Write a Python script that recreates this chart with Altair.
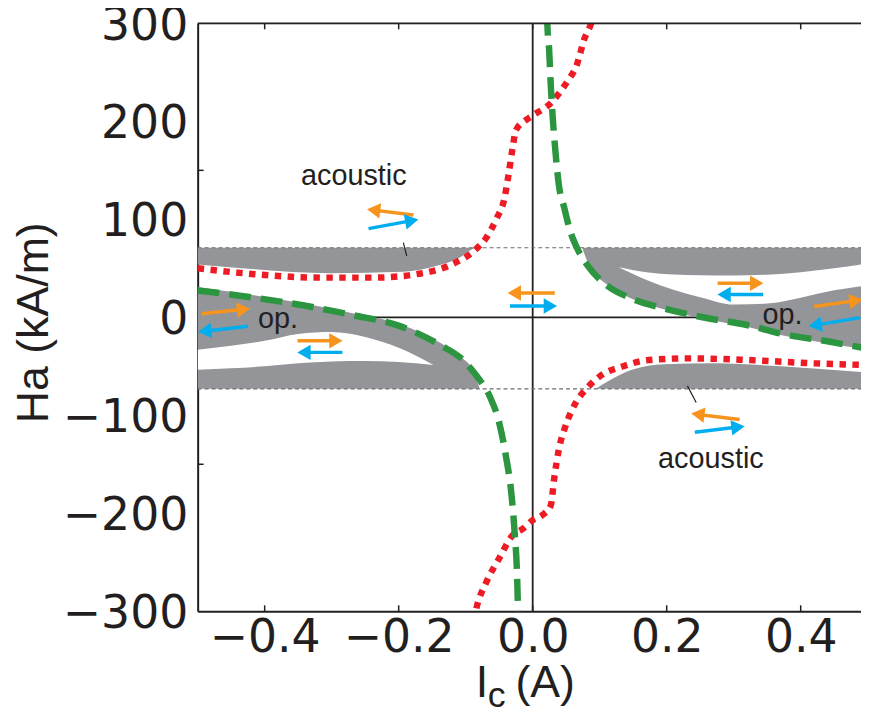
import math
import altair as alt
import pandas as pd

# ---------------- data ----------------
X_TICKS = [-0.4, -0.2, 0.0, 0.2, 0.4]
Y_LABELS = [-300, -200, -100, 0, 100, 200, 300]
Y_TICKS = [-150, 150]
DASH_LEVELS = [71, -73]

RED_UP_X = [-0.5, -0.415, -0.317, -0.237, -0.169, -0.119, -0.084, -0.069, -0.0545, -0.042,
            -0.036, -0.030, -0.025, -0.010, 0.0, 0.029, 0.044, 0.054, 0.066, 0.0714, 0.076, 0.086, 0.092]
RED_UP_Y = [50, 44, 40.5, 40.5, 44.5, 54.5, 70, 81.4, 100, 122,
            145.6, 172.6, 191, 201.4, 206, 220, 233, 243, 258, 270.6, 282, 297.6, 310]

RED_LO_X = [-0.088, -0.084, -0.069, -0.05, -0.03, -0.015, 0.0, 0.014, 0.027, 0.032, 0.039,
            0.049, 0.064, 0.081, 0.103, 0.133, 0.173, 0.232, 0.321, 0.42, 0.492]
RED_LO_Y = [-310, -297, -270, -246, -222.6, -216, -207, -202, -192, -165, -135,
            -111, -87.5, -72.3, -58.8, -50.4, -43.6, -41.9, -43.6, -47, -48.6]

GREEN_UP_X = [0.0215, 0.022, 0.0245, 0.027, 0.030, 0.034, 0.039, 0.047, 0.056, 0.066, 0.084,
              0.108, 0.148, 0.197, 0.252, 0.321, 0.370, 0.444, 0.492]
GREEN_UP_Y = [310, 297.6, 274, 237, 203, 169, 135.5, 112, 88, 71, 51,
              34, 19, 8.8, 0.3, -8.1, -16.5, -25, -31]

GREEN_LO_X = [-0.5, -0.44, -0.341, -0.267, -0.198, -0.138, -0.104, -0.089, -0.079, -0.064,
              -0.05, -0.04, -0.032, -0.027, -0.023, -0.022, -0.0215]
GREEN_LO_Y = [27.4, 22.3, 12, 2, -9, -28.4, -43.6, -55, -64, -80.8,
              -107.7, -141.6, -178.7, -219, -270, -297, -310]

# grey regions (edge opposite to the dashed level)
GRAY_UL_X = [-0.5, -0.415, -0.301, -0.193, -0.143, -0.109, -0.089, -0.085]
GRAY_UL_Y = [54, 49, 45, 46.5, 52.5, 61, 70, 71]
GRAY_UR_X = [0.074, 0.084, 0.108, 0.148, 0.197, 0.252, 0.321, 0.370, 0.444, 0.492]
GRAY_UR_Y = [71, 53, 35, 19, 8, -1, -10, -18, -27, -32]
GRAY_LL_X = [-0.5, -0.44, -0.341, -0.267, -0.198, -0.138, -0.104, -0.089, -0.079]
GRAY_LL_Y = [31, 25, 14, 4, -7, -26, -42, -54, -73]
GRAY_LR_X = [0.094, 0.113, 0.148, 0.197, 0.271, 0.370, 0.492]
GRAY_LR_Y = [-73, -65, -53.5, -47.8, -46.8, -50, -56]

# white gaps inside the grey regions
WEDGE_UR_X = [0.128, 0.17, 0.21, 0.25, 0.30, 0.35, 0.40, 0.45, 0.492]
WEDGE_UR_TOP = [51, 46, 43.6, 43, 42.6, 43.5, 46, 50, 54]
WEDGE_UR_BOT = [51, 38, 28, 20.5, 13, 14, 20, 27.5, 32]
WEDGE_LL_X = [-0.5, -0.45, -0.40, -0.35, -0.30, -0.25, -0.20, -0.148]
WEDGE_LL_TOP = [-33, -29, -24, -17, -15, -20, -31, -48.6]
WEDGE_LL_BOT = [-53.5, -52, -50, -47, -45, -44.6, -45.5, -48.6]

# spin arrows: tail -> tip
ARROW_X0 = [-0.178, -0.245, 0.033, -0.034, 0.276, 0.344, 0.42, 0.489, -0.494, -0.425, -0.351, -0.284, 0.309, 0.242]
ARROW_Y0 = [104.4, 90.5, 24.8, 11.5, 34.8, 23.3, 11.1, -0.3, 3.7, -9.1, -24, -35.8, -104.4, -117.3]
ARROW_X1 = [-0.247, -0.171, -0.037, 0.036, 0.344, 0.276, 0.492, 0.412, -0.422, -0.499, -0.284, -0.351, 0.237, 0.316]
ARROW_Y1 = [110.2, 99.9, 24.8, 11.5, 34.8, 23.3, 17.9, -9.1, 8.8, -14.9, -24, -35.8, -98.3, -111.2]
ARROW_KIND = ["orange", "blue"] * 7

LEADER_X0 = [-0.193, 0.231]
LEADER_Y0 = [76.3, -70]
LEADER_X1 = [-0.188, 0.244]
LEADER_Y1 = [62.8, -86.9]

NOTE_TEXT = ["acoustic", "acoustic", "op.", "op."]
NOTE_X = [-0.267, 0.266, -0.380, 0.373]
NOTE_Y = [144, -145, -2, 2.5]

# ---------------- chart ----------------
W, H = 668, 592
XMIN, XMAX = -0.5, 0.49
YMIN, YMAX = -300, 300
XS = W / (XMAX - XMIN)
YS = H / (YMAX - YMIN)
INK = "#231f20"
GRAY = "#939598"

xs = alt.Scale(domain=[XMIN, XMAX], nice=False, zero=False)
ys = alt.Scale(domain=[YMIN, YMAX], nice=False, zero=False)

xaxis = alt.Axis(values=X_TICKS, format=".1f", ticks=False, grid=False, domain=True,
                 domainColor=INK, domainWidth=2, labelFont="DejaVu Sans", labelFontSize=46,
                 labelColor=INK, labelPadding=5, labelFlush=False, labelOverlap=False,
                 labelExpr="datum.value < 0 ? datum.label + '\u2002' : datum.label",
                 title=None)
yaxis = alt.Axis(values=Y_LABELS, ticks=False, grid=False, domain=True, domainColor=INK,
                 domainWidth=2, labelFont="DejaVu Sans", labelFontSize=46, labelColor=INK,
                 labelPadding=10, labelOffset=2, labelFlush=False, labelOverlap=False,
                 title="Ha (kA/m)", titleFont="Liberation Sans", titleFontSize=45,
                 titleFontWeight="normal", titleColor=INK, titleX=-151, titleY=301,
                 titleAngle=270, titleBaseline="alphabetic", titleAlign="center")


def X():
    return alt.X("x:Q", scale=xs, axis=xaxis)


def Y():
    return alt.Y("y:Q", scale=ys, axis=yaxis)


def curve(xv, yv):
    return pd.DataFrame({"x": xv, "y": yv})


def band(xv, yv, y2):
    return pd.DataFrame({"x": xv, "y": yv, "y2": [y2] * len(xv)})


def rules(x0, y0, x1, y1):
    return pd.DataFrame({"x": x0, "y": y0, "x2": x1, "y2": y1})


layers = []

# zero lines
zero_df = rules([XMIN, 0.0], [0.0, YMIN], [XMAX, 0.0], [0.0, YMAX])
layers.append(alt.Chart(zero_df).mark_rule(color=INK, strokeWidth=1.8).encode(
    x=X(), y=Y(), x2="x2:Q", y2="y2:Q"))

# grey regions
for gx, gy, lvl in [(GRAY_UL_X, GRAY_UL_Y, DASH_LEVELS[0]), (GRAY_UR_X, GRAY_UR_Y, DASH_LEVELS[0]),
                    (GRAY_LL_X, GRAY_LL_Y, DASH_LEVELS[1]), (GRAY_LR_X, GRAY_LR_Y, DASH_LEVELS[1])]:
    layers.append(alt.Chart(band(gx, gy, lvl)).mark_area(color=GRAY, opacity=1, interpolate="monotone", clip=True).encode(
        x=X(), y=Y(), y2="y2:Q"))

# white gaps
for wx, wt, wb in [(WEDGE_UR_X, WEDGE_UR_TOP, WEDGE_UR_BOT), (WEDGE_LL_X, WEDGE_LL_TOP, WEDGE_LL_BOT)]:
    df = pd.DataFrame({"x": wx, "y": wt, "y2": wb})
    layers.append(alt.Chart(df).mark_area(color="white", opacity=1, interpolate="monotone", clip=True).encode(
        x=X(), y=Y(), y2="y2:Q"))

# dashed horizontal levels
dash_df = rules([XMIN] * len(DASH_LEVELS), DASH_LEVELS, [XMAX] * len(DASH_LEVELS), DASH_LEVELS)
layers.append(alt.Chart(dash_df).mark_rule(color="#6d6e71", strokeWidth=1.2, strokeDash=[4, 3]).encode(
    x=X(), y=Y(), x2="x2:Q", y2="y2:Q"))

# red dotted and green dashed curves
for cx, cy in [(RED_UP_X, RED_UP_Y), (RED_LO_X, RED_LO_Y)]:
    layers.append(alt.Chart(curve(cx, cy)).mark_line(color="#ed1c24", strokeWidth=6.5, strokeDash=[6.5, 6.5],
                                                     strokeCap="butt", interpolate="monotone", clip=True).encode(
        x=X(), y=Y()))
for cx, cy in [(GREEN_UP_X, GREEN_UP_Y), (GREEN_LO_X, GREEN_LO_Y)]:
    layers.append(alt.Chart(curve(cx, cy)).mark_line(color="#2b9540", strokeWidth=6.5, strokeDash=[22, 10],
                                                     strokeCap="butt", interpolate="monotone", clip=True).encode(
        x=X(), y=Y()))

# inward ticks and top frame
tick_len = 6
tx = X_TICKS + X_TICKS
ty0 = [YMIN] * len(X_TICKS) + [YMAX] * len(X_TICKS)
ty1 = [YMIN + tick_len / YS] * len(X_TICKS) + [YMAX - tick_len / YS] * len(X_TICKS)
ticks_df = pd.concat([
    rules(tx, ty0, tx, ty1),
    rules([XMIN] * len(Y_TICKS), Y_TICKS, [XMIN + tick_len / XS] * len(Y_TICKS), Y_TICKS),
])
layers.append(alt.Chart(ticks_df).mark_rule(color=INK, strokeWidth=1.5).encode(
    x=X(), y=Y(), x2="x2:Q", y2="y2:Q"))
top_df = rules([XMIN], [YMAX], [XMAX], [YMAX])
layers.append(alt.Chart(top_df).mark_rule(color=INK, strokeWidth=2, clip=False).encode(
    x=X(), y=Y(), x2="x2:Q", y2="y2:Q"))

# arrows
head = 6.5
rows = []
for x0, y0, x1, y1, k in zip(ARROW_X0, ARROW_Y0, ARROW_X1, ARROW_Y1, ARROW_KIND):
    dx = (x1 - x0) * XS
    dy = -(y1 - y0) * YS
    n = math.hypot(dx, dy)
    ux, uy = dx / n, dy / n
    xc = x1 - head * ux / XS
    yc = y1 + head * uy / YS
    ang = math.degrees(math.atan2(uy, ux)) % 360
    rows.append({"x": x0, "y": y0, "x2": xc, "y2": yc, "hx": xc, "hy": yc, "ang": ang, "kind": k})
arrow_df = pd.DataFrame(rows)
acol = alt.Color("kind:N", scale=alt.Scale(domain=["orange", "blue"], range=["#f7941d", "#00aeef"]), legend=None)
layers.append(alt.Chart(arrow_df).mark_rule(strokeWidth=3.5, strokeCap="butt", clip=True).encode(
    x=X(), y=Y(), x2="x2:Q", y2="y2:Q", color=acol))
layers.append(alt.Chart(arrow_df).mark_point(shape="triangle-right", filled=True, size=240, opacity=1, clip=True).encode(
    x=alt.X("hx:Q", scale=xs, axis=xaxis), y=alt.Y("hy:Q", scale=ys, axis=yaxis),
    angle=alt.Angle("ang:Q", scale=None), color=acol))

# leader lines
layers.append(alt.Chart(rules(LEADER_X0, LEADER_Y0, LEADER_X1, LEADER_Y1)).mark_rule(color=INK, strokeWidth=1.2).encode(
    x=X(), y=Y(), x2="x2:Q", y2="y2:Q"))

# annotations
note_df = pd.DataFrame({"x": NOTE_X, "y": NOTE_Y, "t": NOTE_TEXT})
layers.append(alt.Chart(note_df).mark_text(font="Liberation Sans", fontSize=29, color=INK,
                                           align="center", baseline="middle").encode(
    x=X(), y=Y(), text="t:N"))

# x-axis title with subscript
one = pd.DataFrame({"k": [0]})
layers.append(alt.Chart(one).mark_text(text="I", font="Liberation Sans", fontSize=45, color=INK,
                                       align="left", baseline="alphabetic").encode(
    x=alt.value(280), y=alt.value(678)))
layers.append(alt.Chart(one).mark_text(text="c", font="Liberation Sans", fontSize=36, color=INK,
                                       align="left", baseline="alphabetic").encode(
    x=alt.value(292), y=alt.value(688)))
layers.append(alt.Chart(one).mark_text(text="(A)", font="Liberation Sans", fontSize=45, color=INK,
                                       align="left", baseline="alphabetic").encode(
    x=alt.value(320), y=alt.value(678)))

chart = alt.layer(*layers).properties(
    width=W, height=H,
    autosize=alt.AutoSizeParams(type="none"),
    padding={"left": 191, "top": 13, "right": 0, "bottom": 100},
).configure_view(strokeWidth=0).configure(font="Liberation Sans")

chart.save("out.html", embed_options={"renderer": "svg", "actions": False})
